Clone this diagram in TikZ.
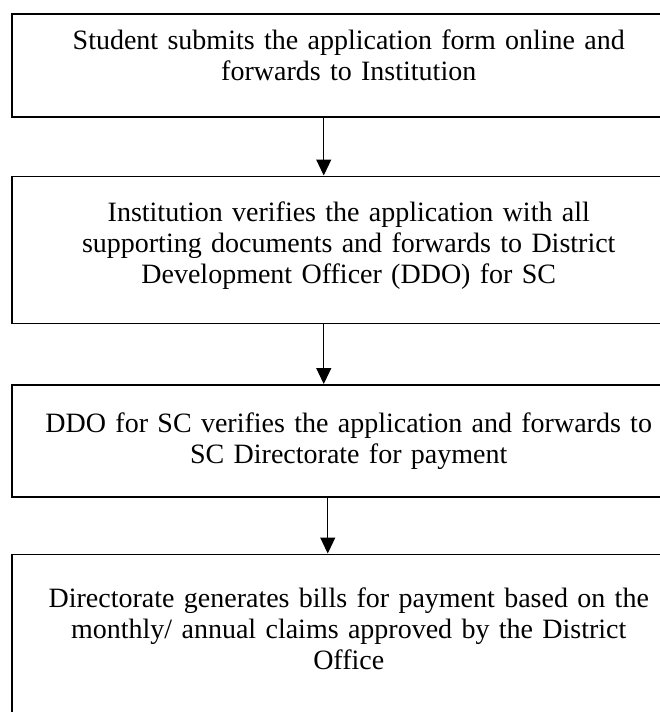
\documentclass[tikz,border=0pt]{standalone}
\usepackage{fontspec}
\setmainfont{Liberation Serif}
\usetikzlibrary{arrows.meta,positioning}

\begin{document}
\begin{tikzpicture}[x=1pt, y=1pt,
    stepbox/.style={draw, line width=1.5pt, minimum width=674pt, inner sep=0pt},
    steptext/.style={anchor=center, text width=660pt, align=center, inner sep=0pt,
        font=\fontsize{28}{31}\selectfont},
    flow/.style={-{Triangle[length=16pt, width=15pt]}, line width=1.2pt}]
    % Page frame
    \useasboundingbox (0,0) rectangle (659,-712);

    % Boxes
    \node[stepbox, minimum height=103pt, anchor=north west] (submit) at (11,-13) {};
    \node[stepbox, minimum height=147pt, below=58pt of submit] (verify) {};
    \node[stepbox, minimum height=112pt, below=60pt of verify] (ddo) {};
    \node[stepbox, minimum height=190pt, below=56pt of ddo] (bills) {};

    % Texts
    \node[steptext] (submit text) at ([yshift=-42pt]submit.north)
        {Student submits the application form online and\\forwards to Institution};
    \node[steptext] (verify text) at ([yshift=-70pt]verify.north)
        {Institution verifies the application with all\\supporting documents and forwards to District\\Development Officer (DDO) for SC};
    \node[steptext] (ddo text) at ([yshift=-57pt]ddo.north)
        {DDO for SC verifies the application and forwards to\\SC Directorate for payment};
    \node[steptext] (bills text) at ([yshift=-75pt]bills.north)
        {Directorate generates bills for payment based on the\\monthly/ annual claims approved by the District\\Office};

    % Arrows
    \draw[flow] ([xshift=-25pt]submit.south) -- ([xshift=-25pt]verify.north);
    \draw[flow] ([xshift=-25pt]verify.south) -- ([xshift=-25pt]ddo.north);
    \draw[flow] ([xshift=-21pt]ddo.south) -- ([xshift=-21pt]bills.north);
\end{tikzpicture}
\end{document}
